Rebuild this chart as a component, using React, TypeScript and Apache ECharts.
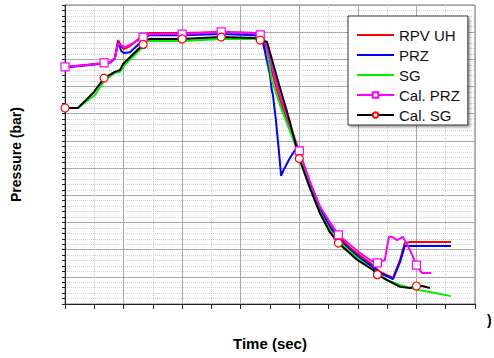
import React, { useEffect, useRef } from "react";
import * as echarts from "echarts";

type Pt = [number, number];

const seriesNames = ["RPV UH", "PRZ", "SG", "Cal. PRZ", "Cal. SG"];

const rpvUh: Pt[] = [
  [0, 87.2], [67, 88.7], [77, 89.0], [85, 90.5], [90.5, 97.1], [95.6, 94.9],
  [100.7, 93.8], [111, 94.9], [128, 97.9], [137, 99.3], [145, 99.7], [202, 99.7],
  [268, 100.1], [324, 99.7], [336, 98.6], [350, 87.9], [367, 75.1], [384, 64.8],
  [401, 54.8], [418, 44.5], [435, 35.7], [452, 29.1], [470, 24.3], [487, 20.6],
  [504, 17.7], [521, 15.1], [538, 11.8], [560, 9.6], [572, 16.2], [580, 22.4],
  [589, 22.8], [659, 22.8],
];

const prz: Pt[] = [
  [0, 87.0], [67, 88.5], [77, 88.8], [85, 90.2], [91, 96.4], [96, 93.1],
  [101, 92.3], [111, 92.6], [128, 96.0], [137, 98.2], [145, 98.9], [202, 98.9],
  [268, 99.3], [324, 98.9], [336, 98.2], [350, 84.2], [353, 78.7], [355, 76.9],
  [360, 67.7], [365, 56.7], [369, 47.1], [374, 49.7], [384, 53.7], [393, 56.7],
  [399, 55.8], [418, 43.8], [435, 35.3], [452, 28.3], [470, 23.5], [487, 19.9],
  [504, 16.9], [521, 14.3], [538, 11.4], [560, 9.2], [572, 15.4], [580, 21.3],
  [659, 21.3],
];

const sg: Pt[] = [
  [0, 72.1], [22, 72.1], [51, 76.9], [68, 82.4], [85, 85.0], [94, 85.4],
  [102, 88.0], [131, 94.2], [138, 96.4], [145, 96.8], [202, 96.8], [268, 97.5],
  [324, 97.5], [336, 96.8], [342, 96.8], [353, 82.4], [367, 73.2], [384, 63.7],
  [401, 54.1], [418, 43.1], [435, 33.9], [452, 27.2], [470, 22.4], [499, 16.9],
  [526, 12.5], [550, 8.8], [572, 7.0], [601, 5.2], [623, 4.4], [659, 2.9],
];

const calPrz: Pt[] = [
  [0, 87.2], [40, 87.9], [66.7, 88.7], [77, 89.0], [85, 90.2], [90.5, 96.0],
  [101, 94.5], [111, 95.3], [133.3, 98.2], [145, 99.3], [200, 99.3], [266.7, 100.1],
  [324, 99.7], [333.3, 99.0], [342, 96.4], [367, 76.9], [384, 65.9], [400, 56.3],
  [418, 45.2], [435, 36.0], [452, 30.2], [466.7, 25.4], [487, 21.7], [504, 18.7],
  [521, 16.2], [533.3, 15.1], [546, 16.2], [553, 24.7], [558, 24.7], [567, 23.5],
  [577, 24.7], [589, 19.9], [600, 14.3], [609.5, 11.4], [625, 11.4],
];

const calSg: Pt[] = [
  [0, 72.1], [22, 72.1], [48, 77.6], [66.7, 83.1], [85, 85.4], [94, 86.1],
  [99, 88.3], [133.3, 95.5], [137, 97.1], [145, 97.5], [200, 97.5], [266.7, 98.2],
  [324, 97.9], [333.3, 97.1], [345, 96.4], [367, 79.5], [384, 67.0], [400, 53.5],
  [418, 42.7], [435, 33.5], [452, 26.5], [466.7, 22.4], [499, 16.2], [526, 12.5],
  [533.3, 10.8], [550, 8.8], [572, 6.3], [589, 5.9], [600, 6.6], [610, 6.6],
  [623, 5.9],
];

const markerTimes = [0, 66.7, 133.3, 200, 266.7, 333.3, 400, 466.7, 533.3, 600];

const withMarkers = (pts: Pt[]) =>
  pts.map((p) =>
    markerTimes.includes(p[0]) ? { value: p } : { value: p, symbol: "none" }
  );

const lineIcon = "path://M0,0 L37,0 L37,2 L0,2 Z";

export default function App() {
  const ref = useRef<HTMLDivElement>(null);
  useEffect(() => {
    if (!ref.current) return;
    const chart = echarts.init(ref.current, null, { renderer: "svg" });
    const font = "'Liberation Sans', Arial, sans-serif";
    chart.setOption({
      animation: false,
      backgroundColor: "#ffffff",
      grid: {
        left: 65,
        top: 5,
        right: 19,
        bottom: 54,
        show: true,
        borderColor: "#777",
        borderWidth: 1,
      },
      xAxis: {
        type: "value",
        min: 0,
        max: 700,
        interval: 100,
        name: "Time (sec)",
        nameLocation: "middle",
        nameGap: 32,
        nameTextStyle: { fontFamily: font, fontSize: 15, fontWeight: "bold", color: "#000" },
        axisLine: { lineStyle: { color: "#222", width: 1 } },
        axisTick: { show: true, length: 5, inside: false, lineStyle: { color: "#222" } },
        minorTick: { show: true, splitNumber: 2, length: 5, lineStyle: { color: "#222" } },
        axisLabel: { show: false },
        splitLine: { show: true, lineStyle: { color: "#a8a8a8", width: 1 } },
        minorSplitLine: { show: true, lineStyle: { color: "#d0d0d0", type: "dotted", width: 1 } },
      },
      yAxis: {
        type: "value",
        min: 0,
        max: 110,
        interval: 10,
        name: "Pressure (bar)",
        nameLocation: "middle",
        nameGap: 42,
        nameRotate: 90,
        nameTextStyle: { fontFamily: font, fontSize: 14, fontWeight: "bold", color: "#000" },
        axisLine: { show: true, lineStyle: { color: "#222", width: 1 } },
        axisTick: { show: true, length: 3, inside: false, lineStyle: { color: "#222" } },
        minorTick: { show: true, splitNumber: 5, length: 3, lineStyle: { color: "#222" } },
        axisLabel: { show: false },
        splitLine: { show: true, lineStyle: { color: "#a8a8a8", width: 1 } },
        minorSplitLine: { show: true, lineStyle: { color: "#d0d0d0", type: "dotted", width: 1 } },
      },
      legend: {
        orient: "vertical",
        left: 348,
        top: 16,
        padding: [11, 8, 2, 8],
        itemGap: 4,
        itemWidth: 37,
        itemHeight: 7,
        backgroundColor: "#fff",
        borderColor: "#333",
        borderWidth: 1,
        borderRadius: 0,
        shadowColor: "rgba(0,0,0,0.35)",
        shadowBlur: 2,
        shadowOffsetX: 2,
        shadowOffsetY: 2,
        textStyle: { fontFamily: font, fontSize: 15, color: "#111", lineHeight: 16 },
        data: [
          { name: seriesNames[0], icon: lineIcon },
          { name: seriesNames[1], icon: lineIcon },
          { name: seriesNames[2], icon: lineIcon },
          { name: seriesNames[3] },
          { name: seriesNames[4] },
        ],
      },
      graphic: [
        {
          type: "text",
          left: 487,
          top: 313,
          style: { text: ")", fontFamily: font, fontSize: 14, fontWeight: "bold", fill: "#000" },
        },
      ],
      series: [
        {
          name: seriesNames[0],
          type: "line",
          data: rpvUh,
          showSymbol: false,
          symbol: "none",
          color: "#ff0000",
          lineStyle: { color: "#ff0000", width: 2 },
        },
        {
          name: seriesNames[1],
          type: "line",
          data: prz,
          showSymbol: false,
          symbol: "none",
          color: "#0000ff",
          lineStyle: { color: "#0000ff", width: 2 },
        },
        {
          name: seriesNames[2],
          type: "line",
          data: sg,
          showSymbol: false,
          symbol: "none",
          color: "#00ee00",
          lineStyle: { color: "#00ee00", width: 2 },
        },
        {
          name: seriesNames[3],
          type: "line",
          data: withMarkers(calPrz),
          symbol: "rect",
          symbolSize: 8,
          showAllSymbol: true,
          itemStyle: { color: "#ffffff", borderColor: "#ff00ff", borderWidth: 1.2 },
          lineStyle: { color: "#ff00ff", width: 2 },
        },
        {
          name: seriesNames[4],
          type: "line",
          data: withMarkers(calSg),
          symbol: "circle",
          symbolSize: 8,
          showAllSymbol: true,
          itemStyle: { color: "#ffffff", borderColor: "#ff0000", borderWidth: 1.2 },
          lineStyle: { color: "#000000", width: 2 },
        },
      ],
    });
    return () => chart.dispose();
  }, []);
  return (
    <div
      ref={ref}
      style={{ position: "fixed", left: 0, top: 0, width: 494, height: 358 }}
    />
  );
}
